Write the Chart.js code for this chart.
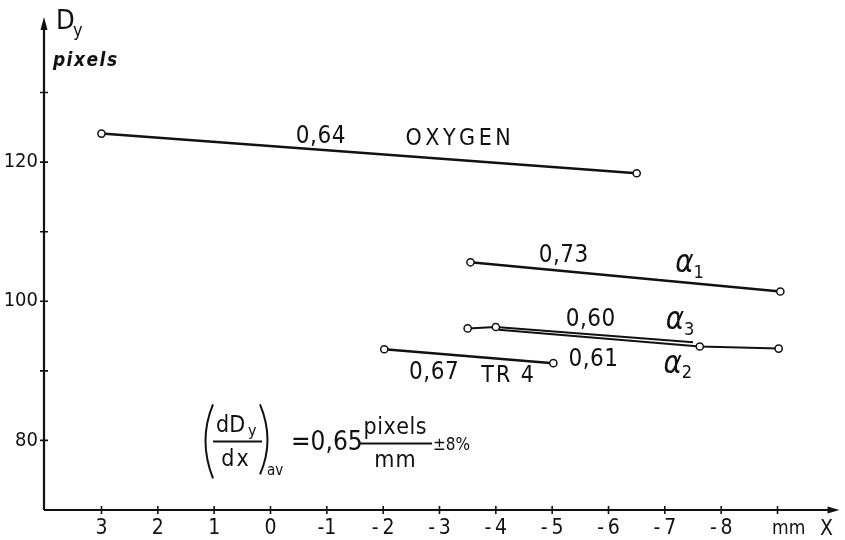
<!DOCTYPE html>
<html><head><meta charset="utf-8">
<script src="https://cdn.jsdelivr.net/npm/chart.js@4/dist/chart.umd.min.js"></script>
<style>html,body{margin:0;padding:0;background:#fff}</style>
</head><body>
<canvas id="c" width="845" height="540"></canvas>
<script>
const FONT = '"DejaVu Sans Condensed","DejaVu Sans",sans-serif';
const INK = '#111111';

// ---- data ----
const oxygen = [{x:3.0,y:124.1},{x:-6.5,y:118.4}];
const alpha1 = [{x:-3.55,y:105.6},{x:-9.05,y:101.4}];
const alpha3 = [{x:-3.5,y:96.1},{x:-4.0,y:96.3},{x:-7.5,y:94.1}];
const alpha2 = [{x:-4.05,y:95.9},{x:-7.62,y:93.5},{x:-9.02,y:93.2}];
const tr4 = [{x:-2.02,y:93.1},{x:-5.02,y:91.1}];

const xTickValues = [3,2,1,0,-1,-2,-3,-4,-5,-6,-7,-8,-9];
const xTickLabels = ['3','2','1','0','-1','-\u20092','-\u20093','-\u20094','-\u20095','-\u20096','-\u20097','-\u20098',''];
const yTickValues = [80,90,100,110,120,130];
const yTickLabels = ['80','','100','','120',''];

const slopeLabels = [
  {text:'0,64', x:-0.89, y:123.6},
  {text:'0,73', x:-5.20, y:106.6},
  {text:'0,60', x:-5.68, y:97.4},
  {text:'0,61', x:-5.73, y:91.6},
  {text:'0,67', x:-2.90, y:89.7}
];
const nameLabels = [
  {text:'OXYGEN', x:-3.33, y:123.3, sub:''},
  {text:'TR 4', x:-4.21, y:89.3, sub:''},
  {text:'α', x:-7.35, y:105.3, sub:'1'},
  {text:'α', x:-7.18, y:97.1, sub:'3'},
  {text:'α', x:-7.14, y:90.9, sub:'2'}
];

function spaced(ctx, text, cx, cy, extra){
  const chars = [...text];
  const widths = chars.map(c => ctx.measureText(c).width);
  const total = widths.reduce((a,b)=>a+b,0) + extra*(chars.length-1);
  let x = cx - total/2;
  ctx.textAlign = 'left';
  chars.forEach((c,i)=>{ ctx.fillText(c, x, cy); x += widths[i] + extra; });
}
function spacedBase(ctx, text, cx, baseY, extra){
  ctx.textBaseline = 'alphabetic';
  spaced(ctx, text, cx, baseY, extra);
}

const deco = {
  id:'deco',
  beforeDatasetsDraw(chart){
    const {ctx, chartArea:a, scales:{x, y}} = chart;
    ctx.save();
    ctx.strokeStyle = INK; ctx.fillStyle = INK; ctx.lineWidth = 2.2;
    ctx.beginPath();
    ctx.moveTo(a.left, a.bottom); ctx.lineTo(a.right - 6, a.bottom);
    ctx.moveTo(a.left, a.bottom); ctx.lineTo(a.left, a.top + 6);
    ctx.stroke();
    ctx.beginPath();
    ctx.moveTo(a.right, a.bottom); ctx.lineTo(a.right - 12, a.bottom - 3.5); ctx.lineTo(a.right - 12, a.bottom + 3.5); ctx.closePath(); ctx.fill();
    ctx.beginPath();
    ctx.moveTo(a.left, a.top - 1); ctx.lineTo(a.left - 3.5, a.top + 12); ctx.lineTo(a.left + 3.5, a.top + 12); ctx.closePath(); ctx.fill();
    ctx.lineWidth = 1.6;
    ctx.beginPath();
    xTickValues.forEach(v => { const px = x.getPixelForValue(v); ctx.moveTo(px, a.bottom - 4); ctx.lineTo(px, a.bottom + 4); });
    yTickValues.forEach(v => { const py = y.getPixelForValue(v); ctx.moveTo(a.left - 4, py); ctx.lineTo(a.left + 4, py); });
    ctx.stroke();
    ctx.restore();
  },
  afterDatasetsDraw(chart){
    const {ctx, scales:{x, y}} = chart;
    ctx.save();
    ctx.fillStyle = INK; ctx.strokeStyle = INK;
    ctx.textBaseline = 'middle';
    ctx.font = '24px ' + FONT;
    slopeLabels.forEach(l => spaced(ctx, l.text, x.getPixelForValue(l.x), y.getPixelForValue(l.y), 0.5));
    nameLabels.forEach(l => {
      const px = x.getPixelForValue(l.x), py = y.getPixelForValue(l.y);
      if (l.sub) {
        ctx.font = 'italic 31px ' + FONT;
        spaced(ctx, l.text, px, py, 0);
        ctx.font = '18px ' + FONT;
        ctx.textAlign = 'left';
        ctx.fillText(l.sub, px + 9, py + 9);
      } else {
        ctx.font = '23px ' + FONT;
        spaced(ctx, l.text, px, py, l.text === 'OXYGEN' ? 3.5 : 2);
      }
    });
    // axis titles
    ctx.textBaseline = 'alphabetic'; ctx.textAlign = 'left';
    ctx.font = '27px ' + FONT; ctx.fillText('D', 56, 29);
    ctx.font = '18px ' + FONT; ctx.fillText('y', 73, 36);
    ctx.font = 'italic bold 19px ' + FONT; spacedBase(ctx, 'pixels', 85, 66, 1.5);
    ctx.font = '19px ' + FONT; ctx.fillText('mm', 772, 534);
    ctx.font = '21px ' + FONT; ctx.fillText('X', 820, 535);
    // formula
    const ax = x.getPixelForValue(1.18), ay = y.getPixelForValue(80);
    ctx.lineWidth = 2;
    ctx.beginPath();
    ctx.moveTo(ax + 9, ay - 36); ctx.quadraticCurveTo(ax - 6, ay, ax + 9, ay + 38);
    ctx.moveTo(ax + 56, ay - 36); ctx.quadraticCurveTo(ax + 71, ay, ax + 56, ay + 34);
    ctx.moveTo(ax + 9, ay + 1); ctx.lineTo(ax + 58, ay + 1);
    ctx.moveTo(ax + 155, ay + 3); ctx.lineTo(ax + 228, ay + 3);
    ctx.stroke();
    ctx.font = '23px ' + FONT; ctx.textAlign = 'left';
    ctx.fillText('dD', ax + 12, ay - 8);
    ctx.font = '16px ' + FONT; ctx.fillText('y', ax + 44, ay - 4);
    ctx.font = '23px ' + FONT;
    spacedBase(ctx, 'dx', ax + 31, ay + 26, 2);
    ctx.font = '15px ' + FONT; ctx.textAlign = 'left';
    ctx.fillText('av', ax + 63, ay + 35);
    ctx.font = '26px ' + FONT; ctx.fillText('=0,65', ax + 87, ay + 10);
    ctx.font = '23px ' + FONT; spacedBase(ctx, 'pixels', ax + 191, ay - 6, 0.5);
    spacedBase(ctx, 'mm', ax + 191, ay + 27, 1);
    ctx.font = '17px ' + FONT; ctx.textAlign = 'left';
    ctx.fillText('±8%', ax + 229, ay + 10);
    ctx.restore();
  }
};

const lineStyle = {
  showLine:true, borderColor:INK, borderWidth:2.6, tension:0,
  pointRadius:3.6, pointBackgroundColor:'#fff', pointBorderColor:INK, pointBorderWidth:1.5
};

new Chart(document.getElementById('c'), {
  type:'scatter',
  data:{datasets:[
    Object.assign({label:'OXYGEN', data:oxygen}, lineStyle),
    Object.assign({label:'α1', data:alpha1}, lineStyle),
    Object.assign({label:'TR 4', data:tr4}, lineStyle),
    Object.assign({label:'α2', data:alpha2}, lineStyle, {borderWidth:2, pointRadius:[0,3.6,3.6]}),
    Object.assign({label:'α3', data:alpha3}, lineStyle, {borderWidth:2, pointRadius:[3.6,3.6,0]})
  ]},
  options:{
    responsive:false, animation:false, devicePixelRatio:1,
    layout:{padding:{top:15, right:2, left:0, bottom:0}},
    plugins:{legend:{display:false}, tooltip:{enabled:false}},
    scales:{
      x:{
        type:'linear', reverse:true, min:-10.1, max:4.02,
        afterBuildTicks: s => { s.ticks = xTickValues.map(v => ({value:v})); },
        afterFit: s => { s.height = 30; },
        grid:{display:false, drawTicks:false}, border:{display:false},
        ticks:{autoSkip:false, maxRotation:0, padding:6, color:INK,
          font:{family:FONT, size:21},
          callback: v => { const i = xTickValues.indexOf(v); return i >= 0 ? xTickLabels[i] : ''; }}
      },
      y:{
        type:'linear', min:70, max:140.71,
        afterBuildTicks: s => { s.ticks = yTickValues.map(v => ({value:v})); },
        afterFit: s => { s.width = 44; },
        grid:{display:false, drawTicks:false}, border:{display:false},
        ticks:{autoSkip:false, padding:6, color:INK,
          font:{family:FONT, size:20},
          callback: v => { const i = yTickValues.indexOf(v); return i >= 0 ? yTickLabels[i] : ''; }}
      }
    }
  },
  plugins:[deco]
});
</script>
</body></html>
